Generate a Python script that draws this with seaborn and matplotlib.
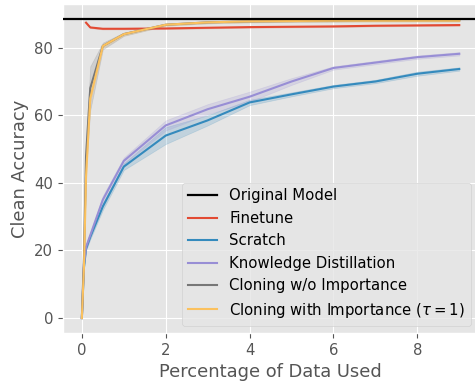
import numpy as np
import pandas as pd
import matplotlib
matplotlib.use("Agg")
import matplotlib.pyplot as plt
import seaborn as sns

plt.style.use("ggplot")
plt.rcParams["font.size"] = 10.7

# percentage of training data used
x_pct = [0, 0.05, 0.1, 0.2, 0.5, 1, 2, 3, 4, 5, 6, 7, 8, 9]

original_acc = 88.5

finetune = [np.nan, np.nan, 87.4, 86.0, 85.6, 85.6, 85.7, 85.9, 86.1, 86.2, 86.3, 86.5, 86.6, 86.7]
finetune_sd = [0, 0, 0.2, 0.2, 0.2, 0.2, 0.2, 0.2, 0.2, 0.2, 0.2, 0.2, 0.2, 0.2]

scratch = [0, 15, 20.5, 24, 33, 44.8, 54, 58.5, 63.8, 66.2, 68.5, 70, 72.3, 73.7]
scratch_sd = [0, 0.5, 0.5, 0.7, 1.0, 1.0, 2.5, 1.5, 0.8, 0.6, 0.5, 0.5, 0.6, 0.5]

kd = [0, 16, 21, 24.5, 35, 46.5, 57, 61.8, 65.5, 70, 74, 75.6, 77.2, 78.2]
kd_sd = [0, 0.5, 0.5, 0.7, 1.2, 1.0, 1.5, 1.5, 1.5, 1.0, 0.5, 0.5, 0.5, 0.5]

clone_noimp = [0, 18, 48, 68, 80.5, 84, 86.8, 87.5, 87.8, 87.9, 88, 88.1, 88.1, 88.1]
clone_noimp_sd = [0, 2, 4, 6.5, 1.0, 0.5, 0.3, 0.3, 0.3, 0.3, 0.3, 0.3, 0.3, 0.3]

clone_imp = [0, 15, 42, 65, 80.5, 84, 86.8, 87.5, 87.8, 87.9, 88, 88, 88, 88]
clone_imp_sd = [0, 1, 1.5, 1.0, 0.5, 0.4, 0.3, 0.3, 0.3, 0.3, 0.3, 0.3, 0.3, 0.3]

methods = ["Finetune", "Scratch", "Knowledge Distillation",
           "Cloning w/o Importance", r"Cloning with Importance ($\tau=1$)"]
means = [finetune, scratch, kd, clone_noimp, clone_imp]
sds = [finetune_sd, scratch_sd, kd_sd, clone_noimp_sd, clone_imp_sd]
colors = ["#E24A33", "#348ABD", "#988ED5", "#777777", "#FBC15E"]

# three runs per point: mean - sd, mean, mean + sd  (so the sd band = +-sd)
rows = []
for name, m, s in zip(methods, means, sds):
    for xv, mv, sv in zip(x_pct, m, s):
        if np.isnan(mv):
            continue
        for k in (-1, 0, 1):
            rows.append({"method": name, "pct": xv, "acc": mv + k * sv})
df = pd.DataFrame(rows)

fig = plt.figure(figsize=(4.75, 3.83), dpi=100)
ax = fig.add_axes([0.1326, 0.1305, 0.874, 0.859])

ax.axhline(original_acc, color="black", linewidth=1.6, label="Original Model", zorder=3)

for name, c in zip(methods, colors):
    sns.lineplot(data=df[df["method"] == name], x="pct", y="acc",
                 errorbar="sd", color=c, label=name, ax=ax, linewidth=1.5)

ax.set_xlabel("Percentage of Data Used")
ax.set_ylabel("Clean Accuracy")
ax.set_xticks([0, 2, 4, 6, 8])
ax.set_yticks([0, 20, 40, 60, 80])
ax.legend(loc="lower right")

fig.savefig("out.png", dpi=100)
